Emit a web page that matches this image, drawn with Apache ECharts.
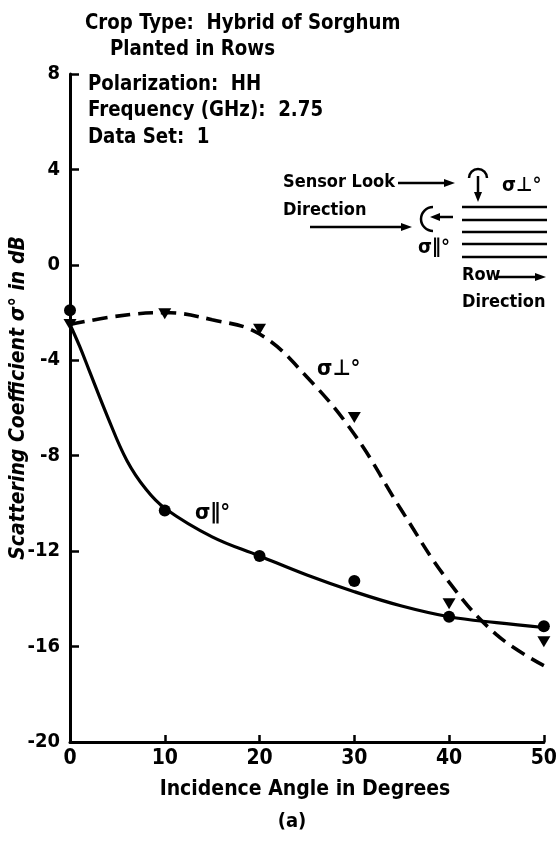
<!DOCTYPE html>
<html>
<head>
<meta charset="utf-8">
<script src="https://cdn.jsdelivr.net/npm/echarts@6/dist/echarts.min.js"></script>
<style>
html,body{margin:0;padding:0;background:#fff;}
#chart{width:560px;height:843px;}
</style>
</head>
<body>
<div id="chart"></div>
<script>
// ---- data ----
const xTicks = [0, 10, 20, 30, 40, 50];
const yTicks = [8, 4, 0, -4, -8, -12, -16, -20];

// sigma-parallel (circles, solid fitted curve)
const parPointX = [0, 10, 20, 30, 40, 50];
const parPointY = [-1.9, -10.3, -12.2, -13.25, -14.75, -15.15];
const parCurveX = [0, 1, 2, 4, 6, 8, 10, 15, 20, 25, 30, 35, 40, 45, 50];
const parCurveY = [-2.5, -3.4, -4.4, -6.4, -8.2, -9.4, -10.2, -11.4, -12.2, -13.0, -13.7, -14.3, -14.75, -15.0, -15.2];

// sigma-perpendicular (triangles, dashed fitted curve)
const perpPointX = [0, 10, 20, 30, 40, 50];
const perpPointY = [-2.5, -2.05, -2.7, -6.4, -14.2, -15.8];
const perpCurveX = [0, 5, 10, 15, 20, 25, 30, 35, 40, 45, 50];
const perpCurveY = [-2.5, -2.15, -2.0, -2.3, -2.9, -4.7, -7.1, -10.3, -13.3, -15.5, -16.8];

const infoLines = [
  'Crop Type:  Hybrid of Sorghum',
  'Planted in Rows',
  'Polarization:  HH',
  'Frequency (GHz):  2.75',
  'Data Set:  1'
];
// ------------------------------------

const FONT = '"Liberation Sans Narrow", "DejaVu Sans Condensed", "Roboto Condensed", "Arial Narrow", "Liberation Sans", sans-serif';
const zip = (xs, ys) => xs.map((x, i) => [x, ys[i]]);

const chart = echarts.init(document.getElementById('chart'), null, {renderer: 'canvas'});

function txt(text, x, y, opts) {
  return Object.assign({
    type: 'text', x: x, y: y, scaleX: 1,
    style: Object.assign({
      text: text, fill: '#000', font: 'bold 18px ' + FONT,
      textAlign: 'left', textVerticalAlign: 'middle'
    }, (opts && opts.style) || {})
  }, (opts && opts.extra) || {});
}
function info(text, x, y) {
  return txt(text, x, y, {style: {font: 'bold 22px ' + FONT}, extra: {scaleX: 0.92}});
}
function line(x1, y1, x2, y2, w) {
  return {type: 'line', shape: {x1: x1, y1: y1, x2: x2, y2: y2}, style: {stroke: '#000', lineWidth: w || 2.5}};
}
function arrowRight(x, y) {
  return {type: 'polygon', shape: {points: [[x, y], [x - 11, y - 4], [x - 11, y + 4]]}, style: {fill: '#000'}};
}
function arrowLeft(x, y) {
  return {type: 'polygon', shape: {points: [[x, y], [x + 10, y - 4], [x + 10, y + 4]]}, style: {fill: '#000'}};
}
function arrowDown(x, y) {
  return {type: 'polygon', shape: {points: [[x, y], [x - 4, y - 10], [x + 4, y - 10]]}, style: {fill: '#000'}};
}

const graphics = [
  info(infoLines[0], 85, 23),
  info(infoLines[1], 110, 49),
  info(infoLines[2], 88, 84),
  info(infoLines[3], 88, 110),
  info(infoLines[4], 88, 137),
  // y axis title
  txt('Scattering Coefficient σ° in dB', 19, 398, {
    style: {font: 'italic bold 21px ' + FONT, textAlign: 'center'},
    extra: {rotation: Math.PI / 2}
  }),
  // x axis title
  txt('Incidence Angle in Degrees', 305, 790, {style: {font: 'bold 21px ' + FONT, textAlign: 'center'}}),
  txt('(a)', 292, 822, {style: {font: 'bold 20px ' + FONT, textAlign: 'center'}}),
  // curve labels
  txt('σ⊥°', 317, 369, {style: {font: 'bold 22px ' + FONT}}),
  txt('σ∥°', 195, 513, {style: {font: 'bold 22px ' + FONT}}),
  // inset diagram
  txt('Sensor Look', 283, 182),
  txt('Direction', 283, 210),
  line(398, 183, 445, 183), arrowRight(455, 183),
  line(310, 227, 402, 227), arrowRight(412, 227),
  {type: 'arc', shape: {cx: 478, cy: 178, r: 9, startAngle: Math.PI, endAngle: 2 * Math.PI}, style: {stroke: '#000', lineWidth: 2.5, fill: null}},
  line(478, 176, 478, 194), arrowDown(478, 202),
  txt('σ⊥°', 502, 186, {style: {font: 'bold 20px ' + FONT}}),
  line(462, 207, 547, 207), line(462, 220, 547, 220), line(462, 232, 547, 232),
  line(462, 244, 547, 244), line(462, 257, 547, 257),
  {type: 'arc', shape: {cx: 433, cy: 219, r: 12, startAngle: Math.PI * 0.5, endAngle: Math.PI * 1.5}, style: {stroke: '#000', lineWidth: 2.5, fill: null}},
  line(440, 217, 453, 217), arrowLeft(430, 217),
  txt('σ∥°', 418, 248, {style: {font: 'bold 20px ' + FONT}}),
  txt('Row', 462, 275),
  line(497, 277, 535, 277), arrowRight(546, 277),
  txt('Direction', 462, 302)
];

const option = {
  backgroundColor: '#fff',
  animation: false,
  grid: {left: 70, right: 16, top: 74, bottom: 101, containLabel: false},
  xAxis: {
    type: 'value', min: 0, max: 50, interval: 10,
    axisLine: {show: true, onZero: false, lineStyle: {color: '#000', width: 3}},
    axisTick: {show: true, inside: true, length: 7, lineStyle: {color: '#000', width: 2.5}},
    axisLabel: {color: '#000', fontSize: 21, fontWeight: 'bold', fontFamily: FONT, margin: 6,
      formatter: v => xTicks.includes(v) ? String(v) : ''},
    splitLine: {show: false}
  },
  yAxis: {
    type: 'value', min: -20, max: 8, interval: 4,
    axisLine: {show: true, onZero: false, lineStyle: {color: '#000', width: 3}},
    axisTick: {show: true, inside: true, length: 9, lineStyle: {color: '#000', width: 2.5}},
    axisLabel: {color: '#000', fontSize: 20, fontWeight: 'bold', fontFamily: FONT, margin: 10,
      formatter: v => yTicks.includes(v) ? String(v) : ''},
    splitLine: {show: false}
  },
  graphic: graphics,
  series: [
    {
      type: 'line', data: zip(parCurveX, parCurveY), smooth: 0.4, showSymbol: false,
      lineStyle: {color: '#000', width: 3.2}, z: 2
    },
    {
      type: 'line', data: zip(perpCurveX, perpCurveY), smooth: 0.4, showSymbol: false,
      lineStyle: {color: '#000', width: 3.6, type: [15, 8]}, z: 2
    },
    {
      type: 'scatter', data: zip(parPointX, parPointY), symbol: 'circle', symbolSize: 12,
      itemStyle: {color: '#000', opacity: 1}, z: 3
    },
    {
      type: 'scatter', data: zip(perpPointX, perpPointY), symbol: 'triangle', symbolRotate: 180, symbolSize: [13, 11],
      itemStyle: {color: '#000', opacity: 1}, z: 3
    }
  ]
};
chart.setOption(option);
</script>
</body>
</html>
